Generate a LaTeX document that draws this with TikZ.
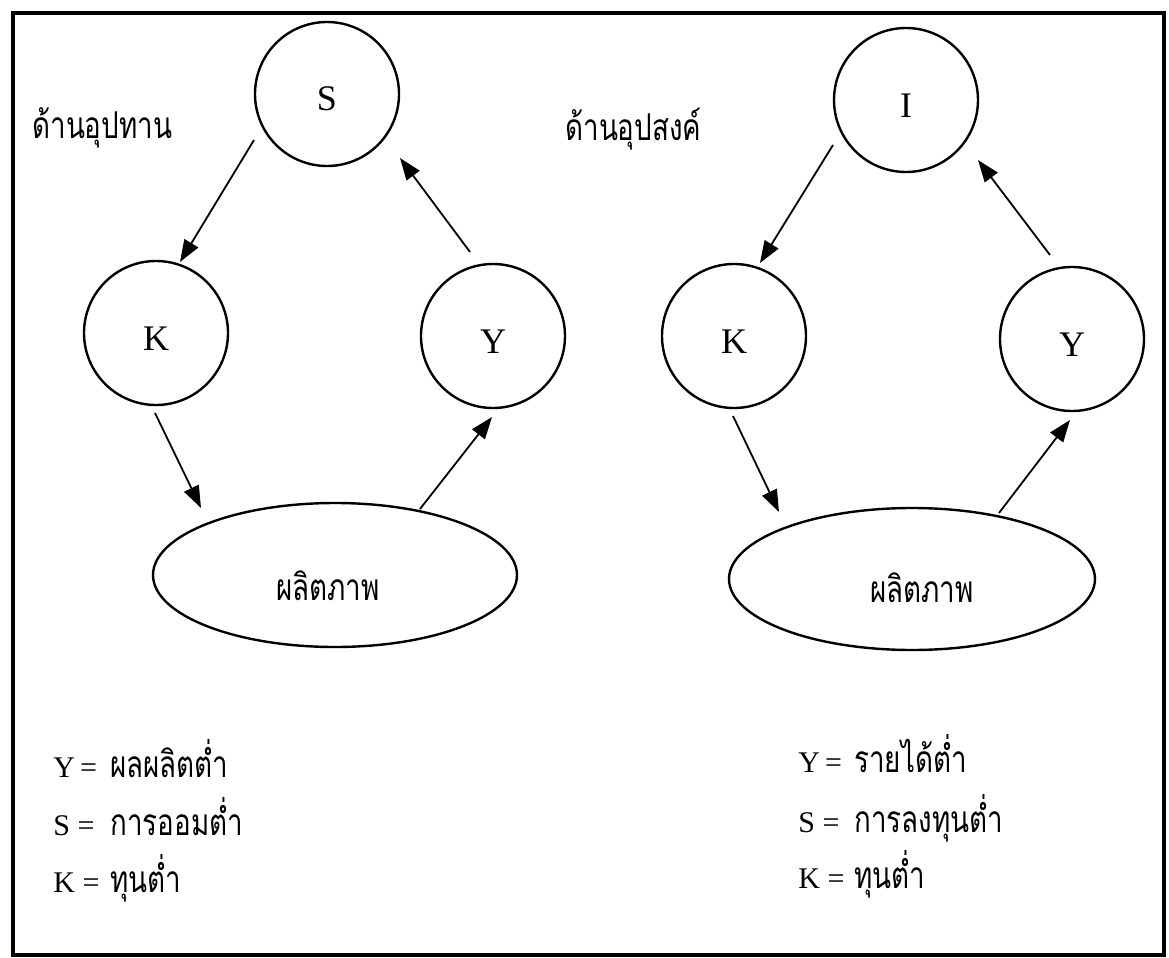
\documentclass[tikz,border=0pt]{standalone}
\usepackage{fontspec}
\setmainfont{Liberation Serif}
\newfontfamily\thaifont[Script=Thai,FakeStretch=0.75]{Loma}
\newcommand\thtext[1]{{\thaifont\fontsize{18.5}{20}\selectfont #1}}
\usetikzlibrary{shapes.geometric,arrows.meta,calc}
\begin{document}
\begin{tikzpicture}[x=0.5pt,y=-0.5pt,
  circ/.style={circle,draw,line width=1.2pt,minimum size=72pt,inner sep=0pt,
    font=\fontsize{18}{20}\selectfont,text height=17pt,text depth=0pt},
  oval/.style={ellipse,draw,line width=1.2pt,minimum width=182pt,minimum height=72pt,inner sep=0pt},
  thai/.style={font=\thaifont\fontsize{18.5}{20}\selectfont,inner sep=0pt},
  legend/.style={font=\fontsize{15}{17}\selectfont,anchor=base west,inner sep=0pt},
  arr/.style={-{Triangle[length=11pt,width=8pt]},line width=0.9pt}]
\useasboundingbox (0,0) rectangle (1169,958);
\draw[line width=1.6pt] (13,13) rectangle (1164,955);

% left: supply side
\node[thai,anchor=base west] (supL) at (32,138) {ด้านอุปทาน};
\node[circ] (S1) at (327,94) {S};
\node[circ] (K1) at (156,333) {K};
\node[circ] (Y1) at (493,336) {Y};
\node[oval] (E1) at (335,575) {};
\node[thai,anchor=base] (E1t) at ($(E1)+(-7,25)$) {ผลิตภาพ};
\draw[arr] ($(S1)+(-73,46)$) -- ($(K1)+(24,-71)$);
\draw[arr] ($(Y1)+(-23,-84)$) -- ($(S1)+(73,64)$);
\draw[arr] ($(K1)+(-1,80)$) -- ($(E1)+(-134,-67)$);
\draw[arr] ($(E1)+(85,-66)$) -- ($(Y1)+(-1,81)$);

% right: demand side
\node[thai,anchor=base west] (demR) at (565,140) {ด้านอุปสงค์};
\node[circ] (I2) at (906,100) {I};
\node[circ] (K2) at (734,336) {K};
\node[circ] (Y2) at (1072,339) {Y};
\node[oval,minimum width=183pt,minimum height=71pt] (E2) at (912,579) {};
\node[thai,anchor=base] (E2t) at ($(E2)+(10,23)$) {ผลิตภาพ};
\draw[arr] ($(I2)+(-73,45)$) -- ($(K2)+(26,-73)$);
\draw[arr] ($(Y2)+(-22,-84)$) -- ($(I2)+(72,60)$);
\draw[arr] ($(K2)+(-1,80)$) -- ($(E2)+(-133,-67)$);
\draw[arr] ($(E2)+(87,-66)$) -- ($(Y2)+(-2,81)$);

% legends
\node[legend] (LYl) at (53,777) {\makebox[28.5pt][l]{Y\,=}\thtext{ผลผลิตต่ำ}};
\node[legend] (LSl) at (53,835) {\makebox[28.5pt][l]{S\ =}\thtext{การออมต่ำ}};
\node[legend] (LKl) at (53,892) {\makebox[28.5pt][l]{K\ =}\thtext{ทุนต่ำ}};
\node[legend] (RYl) at (798,772) {\makebox[28pt][l]{Y\,=}\thtext{รายได้ต่ำ}};
\node[legend] (RSl) at (798,832) {\makebox[28pt][l]{S\ =}\thtext{การลงทุนต่ำ}};
\node[legend] (RKl) at (798,888) {\makebox[28pt][l]{K\ =}\thtext{ทุนต่ำ}};
\end{tikzpicture}
\end{document}
